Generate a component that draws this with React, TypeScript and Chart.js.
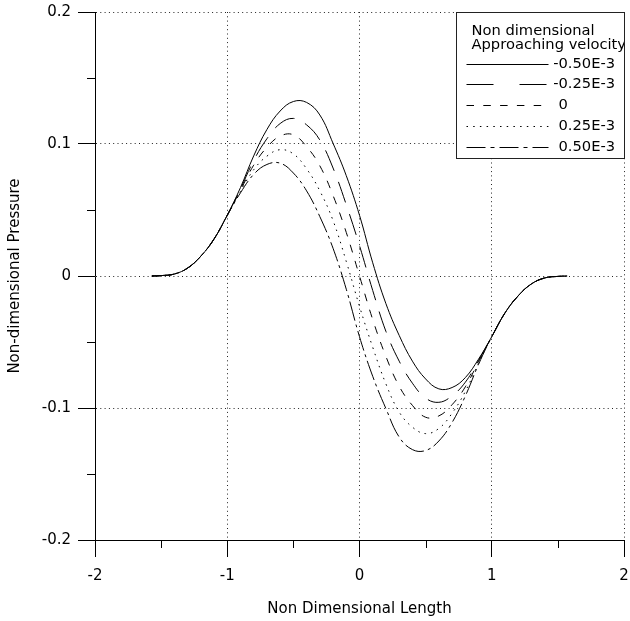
import React, { useEffect, useRef } from 'react';
import { Chart, registerables } from 'chart.js';

Chart.register(...registerables);

// ---- data ----
const xs = [
  -1.57, -1.5, -1.4, -1.3, -1.2, -1.1, -1.0,
  -0.9, -0.8, -0.7, -0.6, -0.5, -0.4, -0.3, -0.2, -0.1, 0, 0.1, 0.2, 0.3, 0.4, 0.5, 0.6, 0.7, 0.8, 0.9,
  1.0, 1.1, 1.2, 1.3, 1.4, 1.5, 1.57,
];

const velNeg050 = [
  0, 0.0003, 0.0015, 0.006, 0.015, 0.028, 0.046,
  0.067, 0.091, 0.111, 0.125, 0.1322, 0.1315, 0.122, 0.1005, 0.076, 0.046, 0.010, -0.021, -0.045, -0.0645, -0.078, -0.0855, -0.0845, -0.077, -0.063,
  -0.046, -0.028, -0.015, -0.006, -0.0015, -0.0003, 0,
];

const velNeg025 = [
  0, 0.0003, 0.0015, 0.006, 0.015, 0.028, 0.046,
  0.066, 0.0875, 0.104, 0.1155, 0.1194, 0.1145, 0.103, 0.0818, 0.054, 0.023, -0.011, -0.042, -0.0645, -0.0812, -0.0925, -0.0957, -0.0908, -0.0805, -0.064,
  -0.046, -0.028, -0.015, -0.006, -0.0015, -0.0003, 0,
];

const velZero = [
  0, 0.0003, 0.0015, 0.006, 0.015, 0.028, 0.046,
  0.065, 0.084, 0.0975, 0.106, 0.107, 0.098, 0.0835, 0.061, 0.033, 0, -0.033, -0.061, -0.0835, -0.098, -0.107, -0.106, -0.0975, -0.084, -0.065,
  -0.046, -0.028, -0.015, -0.006, -0.0015, -0.0003, 0,
];

const velPos025 = [
  0, 0.0003, 0.0015, 0.006, 0.015, 0.028, 0.046,
  0.064, 0.0805, 0.0908, 0.0957, 0.0925, 0.0812, 0.0645, 0.042, 0.011, -0.023, -0.054, -0.0818, -0.103, -0.1145, -0.1194, -0.1155, -0.104, -0.0875, -0.066,
  -0.046, -0.028, -0.015, -0.006, -0.0015, -0.0003, 0,
];

const velPos050 = [
  0, 0.0003, 0.0015, 0.006, 0.015, 0.028, 0.046,
  0.063, 0.077, 0.0845, 0.0855, 0.078, 0.0645, 0.045, 0.021, -0.010, -0.046, -0.076, -0.1005, -0.122, -0.1315, -0.1322, -0.125, -0.111, -0.091, -0.067,
  -0.046, -0.028, -0.015, -0.006, -0.0015, -0.0003, 0,
];

const seriesLabels = ['-0.50E-3', '-0.25E-3', '0', '0.25E-3', '0.50E-3'];
const seriesValues = [velNeg050, velNeg025, velZero, velPos025, velPos050];

const xMajorTicks = [-2, -1, 0, 1, 2];
const xTickLabels = ['-2', '-1', '0', '1', '2'];
const xMinorTicks = [-1.5, -0.5, 0.5, 1.5];
const yMajorTicks = [-0.2, -0.1, 0, 0.1, 0.2];
const yTickLabels = ['-0.2', '-0.1', '0', '0.1', '0.2'];
const yMinorTicks = [-0.15, -0.05, 0.05, 0.15];

const legendTitleLines = ['Non dimensional', 'Approaching velocity'];
const xAxisTitle = 'Non Dimensional Length';
const yAxisTitle = 'Non-dimensional Pressure';

// ---- styles ----
const FONT = "'DejaVu Sans', sans-serif";
const curveDash: number[][] = [[], [22, 12], [8, 9], [1.5, 5], [20, 4, 3, 4]];
const legendDash: number[][] = [[], [27, 26], [7.5, 9.3], [1.5, 5.2], [19, 5, 4, 5]];

const minorTicksPlugin = {
  id: 'minorTicks',
  afterDraw(chart: any) {
    const { ctx, chartArea, scales } = chart;
    const xs_ = scales.x;
    const ys_ = scales.y;
    ctx.save();
    ctx.strokeStyle = '#000';
    ctx.lineWidth = 1;
    ctx.setLineDash([]);
    ctx.beginPath();
    xMinorTicks.forEach((v) => {
      const px = Math.round(xs_.getPixelForValue(v)) + 0.5;
      ctx.moveTo(px, chartArea.bottom);
      ctx.lineTo(px, chartArea.bottom + 8);
    });
    yMinorTicks.forEach((v) => {
      const py = Math.round(ys_.getPixelForValue(v)) + 0.5;
      ctx.moveTo(chartArea.left - 8, py);
      ctx.lineTo(chartArea.left, py);
    });
    ctx.stroke();
    ctx.restore();
  },
};

const boxLegendPlugin = {
  id: 'boxLegend',
  afterDraw(chart: any) {
    const { ctx, chartArea } = chart;
    const bx = 456.5;
    const by = chartArea.top + 0.5;
    const bw = 168;
    const bh = 146;
    ctx.save();
    ctx.setLineDash([]);
    ctx.fillStyle = '#fff';
    ctx.fillRect(bx, by, bw, bh);
    ctx.strokeStyle = '#222';
    ctx.lineWidth = 1;
    ctx.strokeRect(bx, by, bw, bh);
    ctx.beginPath();
    ctx.rect(bx + 0.5, by + 0.5, bw - 1, bh - 1);
    ctx.clip();
    ctx.font = `14.7px ${FONT}`;
    ctx.fillStyle = '#000';
    ctx.textBaseline = 'middle';
    ctx.textAlign = 'left';
    ctx.fillText(legendTitleLines[0], 471.5, by + 18.5);
    ctx.fillText(legendTitleLines[1], 471.5, by + 33);
    const minusW = ctx.measureText('-').width;
    seriesLabels.forEach((lab, i) => {
      const y = Math.round(by + 51 + i * 20.85) + 0.5;
      ctx.save();
      ctx.strokeStyle = '#000';
      ctx.lineWidth = 1;
      ctx.setLineDash(legendDash[i]);
      ctx.beginPath();
      ctx.moveTo(466.5, y);
      ctx.lineTo(548.5, y);
      ctx.stroke();
      ctx.restore();
      const tx = 558.5 - (lab.startsWith('-') ? minusW : 0);
      ctx.fillText(lab, tx, y);
    });
    ctx.restore();
  },
};

export default function App() {
  const canvasRef = useRef<HTMLCanvasElement | null>(null);

  useEffect(() => {
    if (!canvasRef.current) return;
    Chart.defaults.font.family = FONT;
    const chart = new Chart(canvasRef.current, {
      type: 'line',
      data: {
        datasets: seriesValues.map((vals, i) => ({
          label: seriesLabels[i],
          data: xs.map((x, j) => ({ x, y: vals[j] })),
          borderColor: '#000',
          borderWidth: 1,
          borderDash: curveDash[i],
          pointRadius: 0,
          fill: false,
          tension: 0.4,
        })),
      },
      options: {
        responsive: false,
        animation: false,
        events: [],
        layout: { padding: { left: 0, right: 6, top: 12, bottom: 0 } },
        plugins: {
          legend: { display: false },
          tooltip: { enabled: false },
        },
        scales: {
          x: {
            type: 'linear',
            min: -2,
            max: 2,
            afterBuildTicks: (s: any) => {
              s.ticks = xMajorTicks.map((v) => ({ value: v }));
            },
            afterFit: (s: any) => {
              s.height = 81;
              s.paddingLeft = 0;
              s.paddingRight = 0;
            },
            ticks: {
              autoSkip: false,
              maxRotation: 0,
              padding: 10.5,
              color: '#000',
              font: { size: 15 },
              callback: (v: any) => {
                const k = xMajorTicks.findIndex((t) => Math.abs(t - v) < 1e-9);
                return k >= 0 ? xTickLabels[k] : '';
              },
            },
            grid: {
              display: true,
              drawOnChartArea: true,
              drawTicks: true,
              tickLength: 17,
              tickColor: '#000',
              tickWidth: 1,
              color: '#222',
              lineWidth: 1,
            },
            border: { display: true, color: '#000', width: 1, dash: [1, 3.3] },
            title: {
              display: true,
              text: xAxisTitle,
              color: '#000',
              font: { size: 15 },
              padding: { top: 0, bottom: 3 },
            },
          },
          y: {
            type: 'linear',
            min: -0.2,
            max: 0.2,
            afterBuildTicks: (s: any) => {
              s.ticks = yMajorTicks.map((v) => ({ value: v }));
            },
            afterFit: (s: any) => {
              s.width = 95;
              s.paddingTop = 0;
              s.paddingBottom = 0;
            },
            ticks: {
              padding: 7,
              color: '#000',
              font: { size: 15 },
              callback: (v: any) => {
                const k = yMajorTicks.findIndex((t) => Math.abs(t - v) < 1e-9);
                return k >= 0 ? yTickLabels[k] : '';
              },
            },
            grid: {
              display: true,
              drawOnChartArea: true,
              drawTicks: true,
              tickLength: 17,
              tickColor: '#000',
              tickWidth: 1,
              color: '#222',
              lineWidth: 1,
            },
            border: { display: true, color: '#000', width: 1, dash: [1, 3.3] },
            title: {
              display: true,
              text: yAxisTitle,
              color: '#000',
              font: { size: 15 },
              padding: { top: 6, bottom: 0 },
            },
          },
        },
      },
      plugins: [minorTicksPlugin, boxLegendPlugin],
    } as any);
    return () => chart.destroy();
  }, []);

  return (
    <div style={{ position: 'absolute', left: 0, top: 0, width: 630, height: 621, background: '#fff' }}>
      <canvas ref={canvasRef} width={630} height={621} style={{ display: 'block', width: 630, height: 621 }} />
    </div>
  );
}
